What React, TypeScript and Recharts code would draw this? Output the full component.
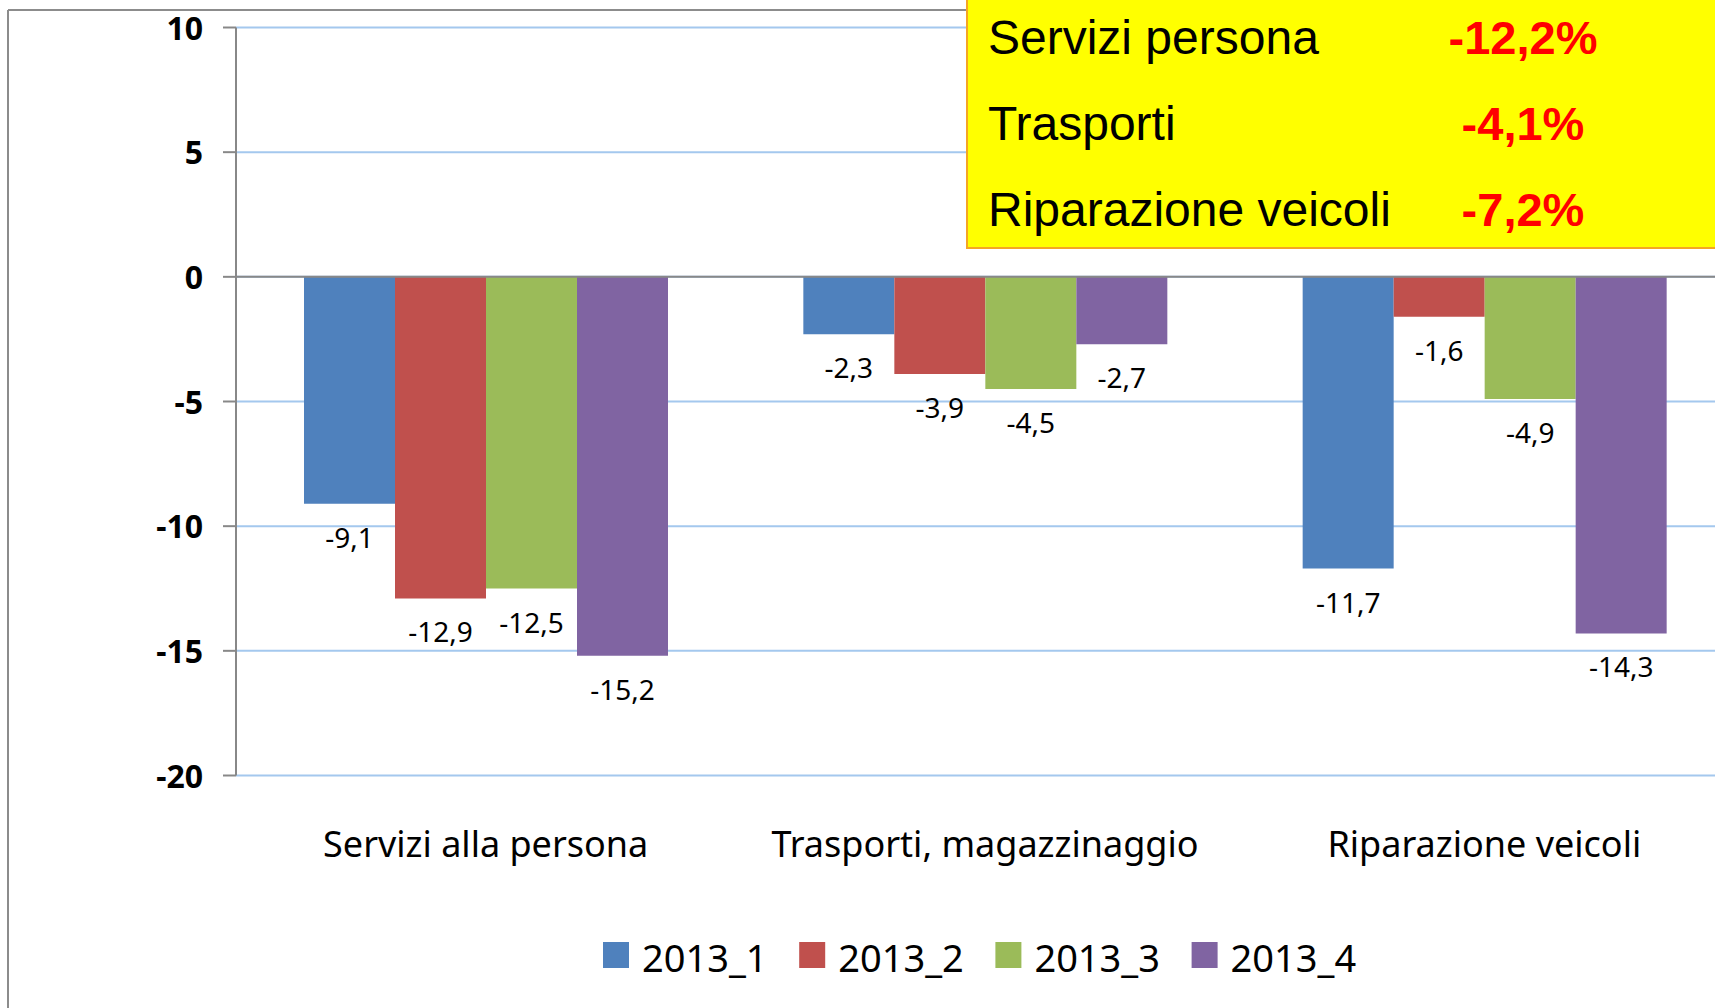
import React from "react";
import {
  BarChart,
  Bar,
  XAxis,
  YAxis,
  CartesianGrid,
  ReferenceLine,
  LabelList,
} from "recharts";

// categories and quarterly values (variazione %)
const CATEGORIES = [
  "Servizi alla persona",
  "Trasporti, magazzinaggio",
  "Riparazione veicoli",
];
const SERIES_NAMES = ["2013_1", "2013_2", "2013_3", "2013_4"];
const SERIES_COLORS = ["#4F81BD", "#C0504D", "#9BBB59", "#8064A2"];
const Q1 = [-9.1, -2.3, -11.7];
const Q2 = [-12.9, -3.9, -1.6];
const Q3 = [-12.5, -4.5, -4.9];
const Q4 = [-15.2, -2.7, -14.3];
const Y_TICKS = [10, 5, 0, -5, -10, -15, -20];

// yellow summary box
const BOX_LABELS = ["Servizi persona", "Trasporti", "Riparazione veicoli"];
const BOX_VALUES = ["-12,2%", "-4,1%", "-7,2%"];

const SERIES_KEYS = ["q1", "q2", "q3", "q4"];

const data = CATEGORIES.map((c, i) => ({
  category: c,
  q1: Q1[i],
  q2: Q2[i],
  q3: Q3[i],
  q4: Q4[i],
}));

const fmt = (v: number) => v.toFixed(1).replace(".", ",");

const renderValueLabel = (props: any) => {
  const { x, y, width, height, value } = props;
  const bottom = Math.max(Number(y), Number(y) + Number(height));
  return (
    <text
      x={Number(x) + Number(width) / 2}
      y={bottom + 44}
      textAnchor="middle"
      fontFamily="'Noto Sans'"
      fontSize={28}
      fill="#000"
    >
      {fmt(Number(value))}
    </text>
  );
};

const CategoryTick = (props: any) => {
  const { x, y, payload } = props;
  return (
    <text
      x={x}
      y={y + 73}
      textAnchor="middle"
      fontFamily="'Noto Sans'"
      fontSize={36}
      fill="#000"
    >
      {payload.value}
    </text>
  );
};

const ValueTick = (props: any) => {
  const { x, y, payload } = props;
  return (
    <text
      x={x}
      y={y + 12}
      textAnchor="end"
      fontFamily="'Noto Sans'"
      fontWeight="bold"
      fontSize={32}
      fill="#000"
    >
      {payload.value}
    </text>
  );
};

export default function App() {
  return (
    <div
      style={{
        position: "fixed",
        left: 0,
        top: 0,
        width: 1715,
        height: 1008,
        overflow: "hidden",
        background: "#fff",
      }}
    >
      <BarChart
        width={1734}
        height={1008}
        data={data}
        margin={{ top: 27.5, right: 0, left: 0, bottom: 0 }}
        barCategoryGap={68}
        barGap={0}
      >
        <CartesianGrid vertical={false} stroke="#A4C8EE" strokeWidth={2} />
        <XAxis
          dataKey="category"
          axisLine={false}
          tickLine={false}
          height={232.5}
          tick={<CategoryTick />}
          interval={0}
        />
        <YAxis
          type="number"
          domain={[-20, 10]}
          ticks={Y_TICKS}
          width={236}
          tickSize={13}
          tickMargin={20}
          axisLine={{ stroke: "#888", strokeWidth: 2 }}
          tickLine={{ stroke: "#888", strokeWidth: 2 }}
          tick={<ValueTick />}
          interval={0}
        />
        {SERIES_KEYS.map((k, i) => (
          <Bar
            key={k}
            dataKey={k}
            name={SERIES_NAMES[i]}
            fill={SERIES_COLORS[i]}
            isAnimationActive={false}
          >
            <LabelList dataKey={k} content={renderValueLabel} />
          </Bar>
        ))}
        <ReferenceLine y={0} stroke="#888" strokeWidth={2} />
      </BarChart>

      <svg
        width={1715}
        height={1008}
        style={{ position: "absolute", left: 0, top: 0, pointerEvents: "none" }}
      >
        {/* outer chart frame, cut off at right and bottom */}
        <line x1={8} y1={10} x2={8} y2={1008} stroke="#8c8c8c" strokeWidth={2} />
        <line x1={8} y1={10} x2={967} y2={10} stroke="#8c8c8c" strokeWidth={2} />

        {/* yellow summary box */}
        <rect
          x={967}
          y={-5}
          width={770}
          height={253}
          fill="#FFFF00"
          stroke="#F5A623"
          strokeWidth={2}
        />
        {BOX_LABELS.map((t, i) => (
          <text
            key={t}
            x={988}
            y={53.5 + i * 86}
            fontFamily="'Liberation Sans', Arial"
            fontSize={48}
            fill="#000"
          >
            {t}
          </text>
        ))}
        {BOX_VALUES.map((t, i) => (
          <text
            key={t}
            x={1523}
            y={53.5 + i * 86}
            textAnchor="middle"
            fontFamily="'Liberation Sans', Arial"
            fontWeight="bold"
            fontSize={47}
            fill="#FF0000"
          >
            {t}
          </text>
        ))}

        {/* legend */}
        {SERIES_NAMES.map((n, i) => (
          <g key={n} transform={`translate(${603 + i * 196.2}, 0)`}>
            <rect x={0} y={942} width={26} height={26} fill={SERIES_COLORS[i]} />
            <text
              x={39}
              y={971.5}
              fontFamily="'Noto Sans'"
              fontSize={38}
              fill="#000"
            >
              {n}
            </text>
          </g>
        ))}
      </svg>
    </div>
  );
}
